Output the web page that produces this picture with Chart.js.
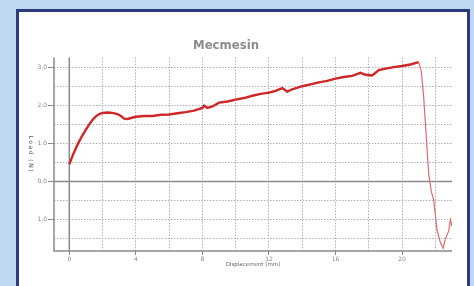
<!DOCTYPE html>
<html><head><meta charset="utf-8">
<script src="https://cdn.jsdelivr.net/npm/chart.js@4/dist/chart.umd.min.js"></script>
<style>
html,body{margin:0;padding:0;width:474px;height:286px;overflow:hidden;background:#bfd8f2;}
#panel{position:absolute;left:16px;top:9px;width:448px;height:290px;border:3px solid #2c3a7e;background:#fff;}
#wrap{position:absolute;left:0;top:0;width:474px;height:286px;}
</style></head>
<body>
<div id="panel"></div>
<div id="wrap"><canvas id="c" width="474" height="286"></canvas></div>
<script>
const titleText = "Mecmesin";
const xTitle = "Displacement (mm)";
const yTitle = "Load (N)";
const xLabelTicks = [0, 4, 8, 12, 16, 20];
const yLabelTicks = [3, 2, 1, 0, -1];
const yTickLabels = ["3.0", "2.0", "1.0", "0.0", "1.0"];
const displacement = [0,0.2,0.4,0.6,0.8,1.0,1.2,1.4,1.6,1.8,2.0,2.3,2.6,2.9,3.1,3.3,3.5,3.8,4.0,4.5,5.0,5.5,6.0,6.5,7.0,7.5,8.0,8.1,8.3,8.6,9.0,9.5,10.0,10.5,11.0,11.5,12.0,12.4,12.8,13.1,13.4,14.0,14.5,15.0,15.5,16.0,16.5,17.0,17.5,17.8,18.2,18.6,19.0,19.5,20.0,20.5,21.0,21.15,21.3,21.45,21.6,21.75,21.9,22.1,22.3,22.47,22.6,22.7,22.8,22.9,23.0];
const load = [0.45,0.68,0.88,1.06,1.22,1.36,1.5,1.62,1.71,1.77,1.8,1.81,1.8,1.77,1.72,1.65,1.64,1.68,1.7,1.72,1.72,1.75,1.76,1.79,1.82,1.86,1.93,1.99,1.93,1.97,2.07,2.1,2.15,2.19,2.25,2.3,2.33,2.38,2.45,2.36,2.42,2.5,2.55,2.6,2.64,2.7,2.74,2.77,2.85,2.8,2.78,2.92,2.96,3.0,3.03,3.07,3.13,2.9,2.2,1.2,0.2,-0.25,-0.48,-1.27,-1.6,-1.75,-1.5,-1.4,-1.3,-1.0,-1.18];

const pts = displacement.map((x,i)=>({x:x,y:load[i]}));

const extras = {
  id:'extras',
  beforeDatasetsDraw(chart){
    const {ctx, scales:{x,y}, chartArea:a} = chart;
    ctx.save();
    ctx.strokeStyle='#8a8a8a'; ctx.lineWidth=1.5;
    const x0 = x.getPixelForValue(0), y0 = y.getPixelForValue(0);
    ctx.beginPath(); ctx.moveTo(x0,a.top); ctx.lineTo(x0,a.bottom); ctx.stroke();
    ctx.beginPath(); ctx.moveTo(a.left,y0); ctx.lineTo(a.right,y0); ctx.stroke();
    ctx.beginPath(); ctx.moveTo(a.left,a.top); ctx.lineTo(a.left,a.bottom); ctx.lineTo(a.right,a.bottom); ctx.stroke();
    ctx.restore();
  },
  afterDraw(chart){
    const {ctx, chartArea:a} = chart;
    ctx.save();
    ctx.fillStyle='#666';
    ctx.font='6px "DejaVu Sans"';
    ctx.translate(31,(a.top+a.bottom)/2);
    ctx.rotate(Math.PI/2);
    ctx.textAlign='center'; ctx.textBaseline='middle';
    ctx.letterSpacing='1.5px';
    ctx.fillText(yTitle,0,0);
    ctx.restore();
  }
};

new Chart(document.getElementById('c'),{
  type:'line',
  data:{datasets:[{
    data:pts,
    borderColor:'#cf2626',
    borderWidth:2.4,
    pointRadius:0,
    tension:0,
    segment:{
      borderWidth:ctx=>ctx.p0.parsed.x>=21.0?1.2:2.4,
      borderColor:ctx=>ctx.p0.parsed.x>=21.0?'#e06a6a':'#cf2626'
    }
  }]},
  options:{
    responsive:false,animation:false,
    layout:{padding:{left:0,right:22,top:0,bottom:0}},
    plugins:{
      legend:{display:false},tooltip:{enabled:false},
      title:{display:true,text:titleText,color:'#8c8c8c',
        font:{family:'"DejaVu Sans Condensed","DejaVu Sans",sans-serif',size:13,weight:'bold'},
        padding:{top:38,bottom:4}}
    },
    scales:{
      x:{type:'linear',min:-0.92,max:23.0,
        afterBuildTicks(s){s.ticks=[0,2,4,6,8,10,12,14,16,18,20,22].map(v=>({value:v}));},
        afterFit(s){s.height=35;},
        ticks:{autoSkip:false,maxRotation:0,color:'#888',font:{family:'"DejaVu Sans"',size:6},padding:1,
          callback:v=>xLabelTicks.includes(v)?String(v):''},
        grid:{color:'#b0b0b0',lineWidth:1,drawTicks:true,tickLength:4,
          tickColor:c=>xLabelTicks.includes(c.tick&&c.tick.value)?'#8a8a8a':'rgba(0,0,0,0)'},
        border:{display:false,dash:[1.5,1.5]},
        title:{display:true,text:xTitle,color:'#666',font:{family:'"DejaVu Sans"',size:5.5},padding:{top:1,bottom:18}}
      },
      y:{type:'linear',min:-1.82,max:3.25,
        afterBuildTicks(s){s.ticks=[-1.5,-1,-0.5,0,0.5,1,1.5,2,2.5,3].map(v=>({value:v}));},
        afterFit(s){s.width=54;},
        ticks:{autoSkip:false,color:'#888',font:{family:'"DejaVu Sans"',size:6},padding:1,
          callback:v=>{const i=yLabelTicks.indexOf(v);return i>=0?yTickLabels[i]:'';}},
        grid:{color:'#b0b0b0',lineWidth:1,drawTicks:true,tickLength:6,
          tickColor:c=>yLabelTicks.includes(c.tick&&c.tick.value)?'#8a8a8a':'rgba(0,0,0,0)'},
        border:{display:false,dash:[1.5,1.5]}
      }
    }
  },
  plugins:[extras]
});
</script>
</body></html>
